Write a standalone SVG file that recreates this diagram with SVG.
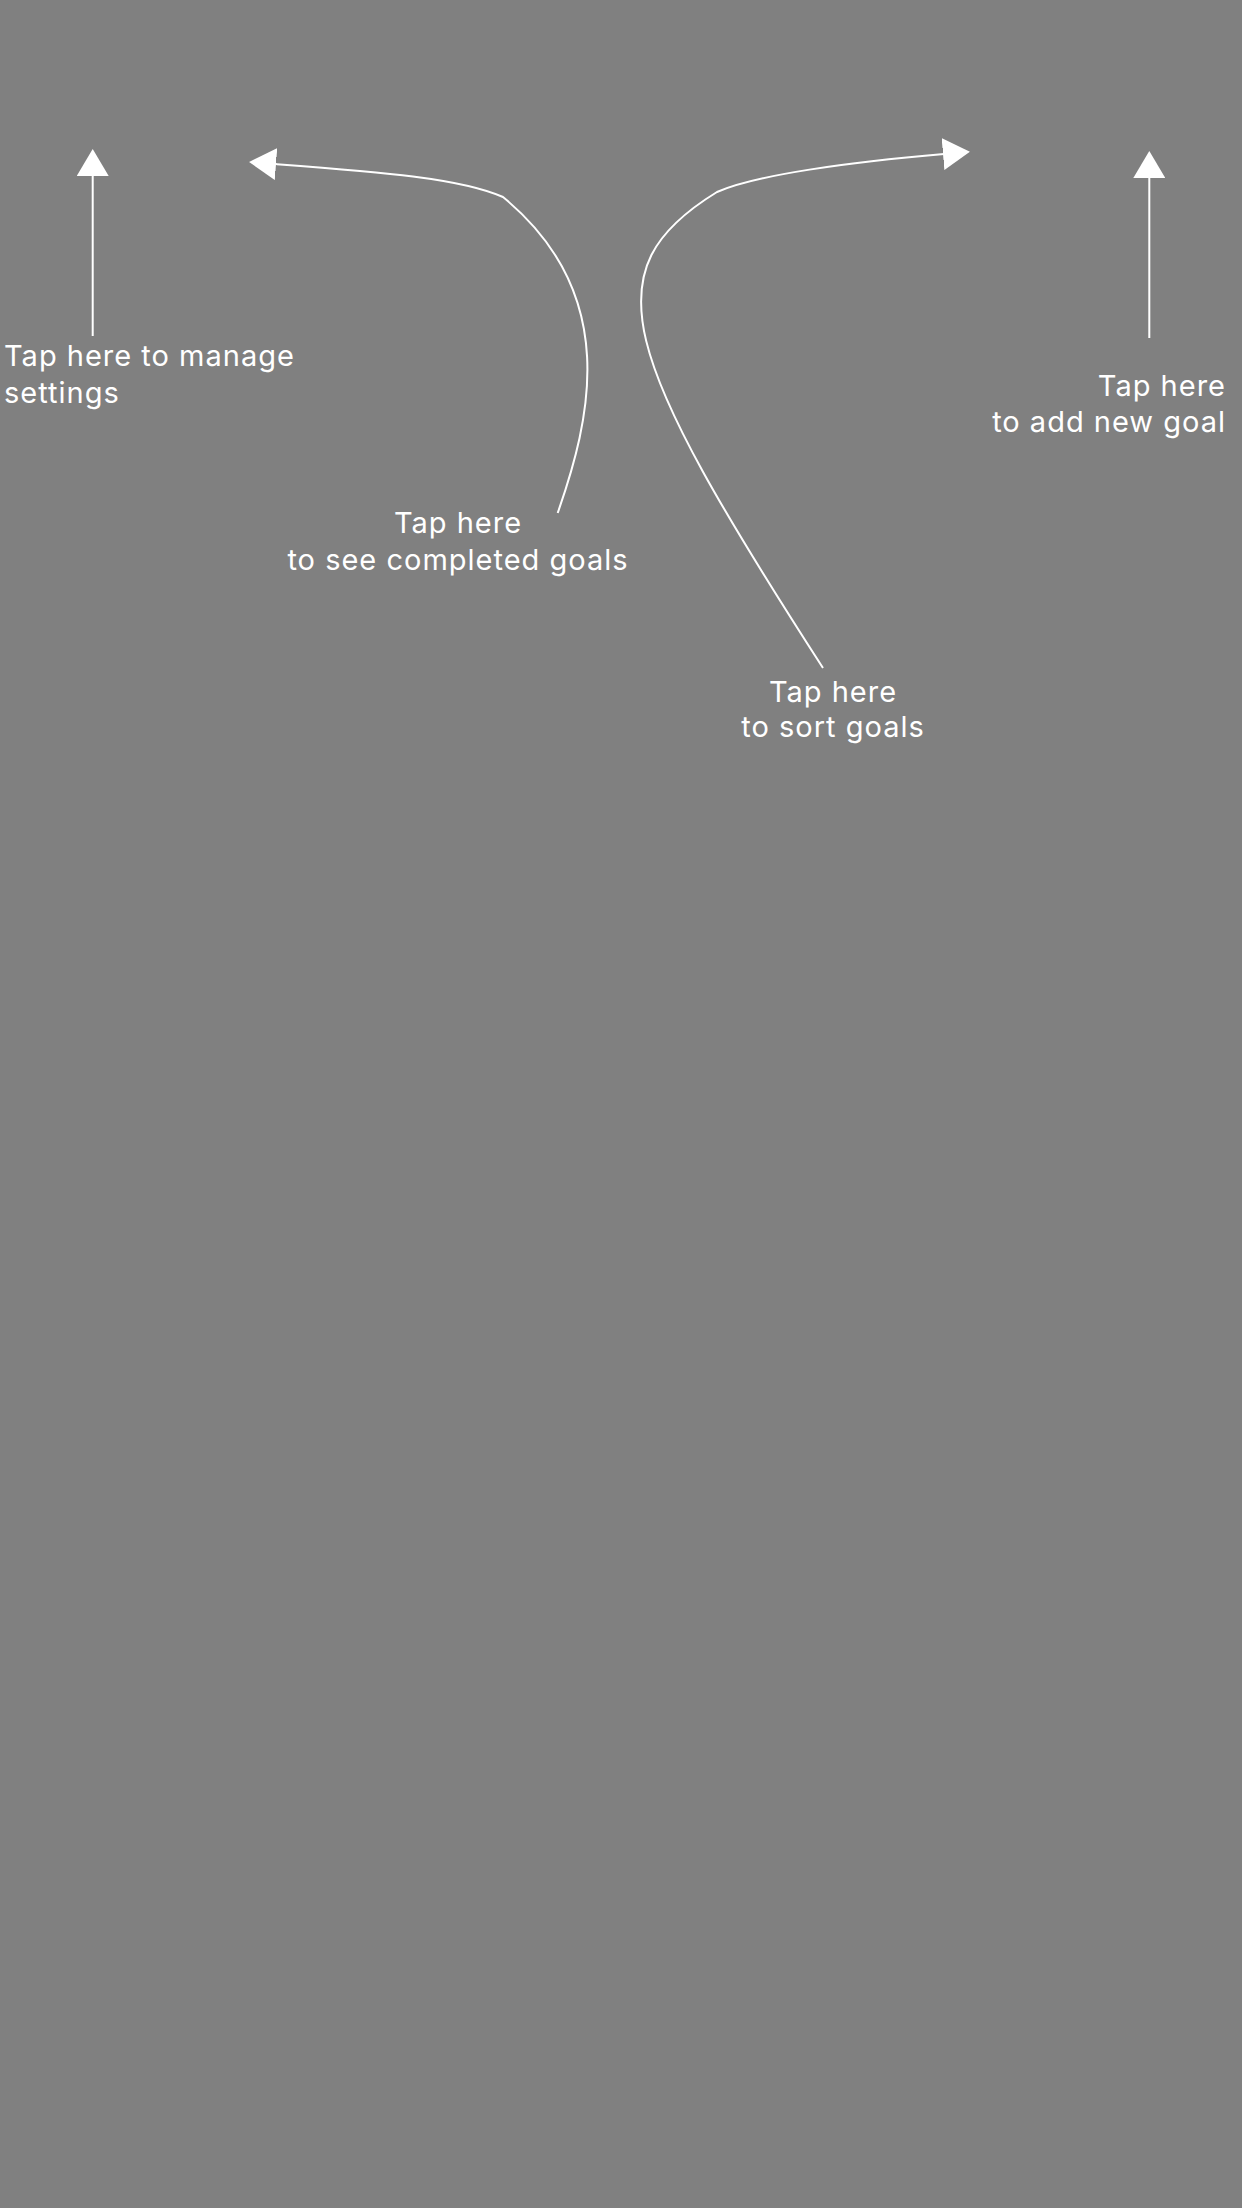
<svg xmlns="http://www.w3.org/2000/svg" width="1242" height="2208" viewBox="0 0 1242 2208">
  <style>
    .bg { fill: #808080; }
    .conn { fill: none; stroke: #ffffff; stroke-width: 2; }
    .lbl { font-family: Inter, "Open Sans", "Liberation Sans", sans-serif; font-size: 29px; letter-spacing: 1px; fill: #ffffff; }
  </style>
  <defs>
    <marker id="head" markerUnits="userSpaceOnUse" viewBox="0 0 27 32" markerWidth="27" markerHeight="32" refX="1" refY="16" orient="auto">
      <path d="M0,0 L27,16 L0,32 Z" fill="#ffffff"/>
    </marker>
  </defs>
  <rect class="bg" x="0" y="0" width="1242" height="2208"/>

  <g id="connectors">
    <path id="c-settings" class="conn" d="M92.7,336 L92.7,175" marker-end="url(#head)"/>
    <path id="c-completed" class="conn" d="M557.7,513 C590,420 622,295 503,197 C460,178 380,172 275,164" marker-end="url(#head)"/>
    <path id="c-sort" class="conn" d="M823,668 C620,353 590,270 717,192 C755,175 850,162 944,154" marker-end="url(#head)"/>
    <path id="c-add" class="conn" d="M1149.3,338 L1149.3,177" marker-end="url(#head)"/>
  </g>

  <g id="node-settings">
    <text class="lbl" x="4" y="366">Tap here to manage</text>
    <text class="lbl" x="4" y="402.5">settings</text>
  </g>
  <g id="node-completed">
    <text class="lbl" x="458" y="533" text-anchor="middle">Tap here</text>
    <text class="lbl" x="458" y="570" text-anchor="middle">to see completed goals</text>
  </g>
  <g id="node-sort">
    <text class="lbl" x="833" y="701.5" text-anchor="middle">Tap here</text>
    <text class="lbl" x="833" y="737" text-anchor="middle">to sort goals</text>
  </g>
  <g id="node-add">
    <text class="lbl" x="1226" y="396" text-anchor="end">Tap here</text>
    <text class="lbl" x="1226" y="432" text-anchor="end">to add new goal</text>
  </g>
</svg>
